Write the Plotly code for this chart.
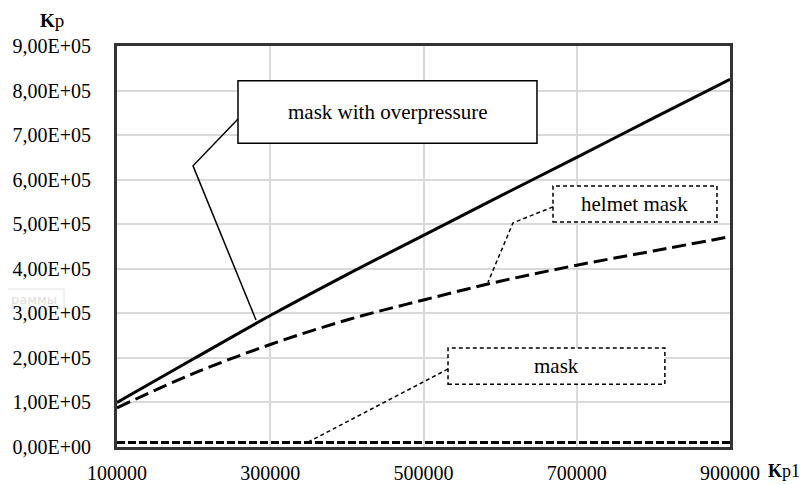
import plotly.graph_objects as go

# ---- data ----
x_vals = [100000, 200000, 300000, 400000, 500000, 600000, 700000, 800000, 900000]
mask_overpressure = [1.00e5, 1.98e5, 2.95e5, 3.87e5, 4.75e5, 5.63e5, 6.50e5, 7.38e5, 8.25e5]
helmet_mask = [0.88e5, 1.65e5, 2.30e5, 2.85e5, 3.30e5, 3.72e5, 4.08e5, 4.40e5, 4.72e5]
mask = [1.0e4, 1.0e4, 1.0e4, 1.0e4, 1.0e4, 1.0e4, 1.0e4, 1.0e4, 1.0e4]

y_tickvals = [0, 1e5, 2e5, 3e5, 4e5, 5e5, 6e5, 7e5, 8e5, 9e5]
y_ticktext = ["0,00E+00", "1,00E+05", "2,00E+05", "3,00E+05", "4,00E+05",
              "5,00E+05", "6,00E+05", "7,00E+05", "8,00E+05", "9,00E+05"]
x_tickvals = [100000, 300000, 500000, 700000, 900000]
x_ticktext = ["100000", "300000", "500000", "700000", "900000"]

# callout labels: (text, box x0, x1, y0, y1, leader path points, style)
callouts = [
    ("mask with overpressure", 257900, 648100, 6.82e5, 8.22e5,
     [(257900, 7.36e5), (199200, 6.31e5), (281400, 2.85e5)], "solid"),
    ("helmet mask", 669000, 883000, 5.05e5, 5.86e5,
     [(669000, 5.39e5), (616800, 5.03e5), (584200, 3.70e5)], "dash"),
    ("mask", 532000, 815000, 1.41e5, 2.22e5,
     [(532000, 1.75e5), (349300, 0.11e5)], "dash"),
]

FONT = "Liberation Serif, Times New Roman, serif"

# the page body has an 8px margin, so the figure is drawn 8px in from the top-left
OFF = 8
W, H = 808 - OFF, 485 - OFF
L, T = 117 - OFF, 46 - OFF
R = W - (730 - OFF)
B = H - (447 - OFF)
pw, ph = W - L - R, H - T - B


def px2paper(px, py):
    """page pixel position -> paper coords"""
    return (px - OFF - L) / pw, (H - B - (py - OFF)) / ph


fig = go.Figure()
fig.add_trace(go.Scatter(x=x_vals, y=mask_overpressure, mode="lines",
                         line=dict(color="black", width=3), line_shape="spline",
                         name="mask with overpressure"))
fig.add_trace(go.Scatter(x=x_vals, y=helmet_mask, mode="lines",
                         line=dict(color="black", width=3, dash="14px,6px"), line_shape="spline",
                         name="helmet mask"))
fig.add_trace(go.Scatter(x=x_vals, y=mask, mode="lines",
                         line=dict(color="black", width=3, dash="8px,3px"),
                         name="mask"))

shapes = []
annotations = []
for text, x0, x1, y0, y1, pts, style in callouts:
    dash = "solid" if style == "solid" else "4px,3px"
    shapes.append(dict(type="rect", xref="x", yref="y", x0=x0, x1=x1, y0=y0, y1=y1,
                       line=dict(color="black", width=1.5, dash=dash),
                       fillcolor="white", layer="above"))
    path = "M " + " L ".join(f"{px},{py}" for px, py in pts)
    shapes.append(dict(type="path", xref="x", yref="y", path=path,
                       line=dict(color="black", width=1.5, dash=dash), layer="above"))
    annotations.append(dict(x=(x0 + x1) / 2, y=(y0 + y1) / 2, xref="x", yref="y",
                            xanchor="center", yanchor="middle",
                            text=text, showarrow=False,
                            font=dict(family=FONT, size=21, color="black")))

# faint leftover tooltip box (drawn behind the tick labels)
bx0, by1 = px2paper(4, 289)
bx1, by0 = px2paper(64, 308)
shapes.append(dict(type="rect", xref="paper", yref="paper", x0=bx0, x1=bx1, y0=by0, y1=by1,
                   line=dict(color="#e3e3e3", width=1), fillcolor="rgba(0,0,0,0)", layer="below"))
tx, ty = px2paper(34, 299)
annotations.append(dict(x=tx, y=ty, xref="paper", yref="paper", text="раммы",
                        xanchor="center", yanchor="middle",
                        showarrow=False, font=dict(family="DejaVu Sans", size=13, color="#dedede")))

# axis titles
kx, ky = px2paper(52, 20)
annotations.append(dict(x=kx, y=ky, xref="paper", yref="paper", text="<b>K</b>p",
                        xanchor="center", yanchor="middle",
                        showarrow=False, font=dict(family=FONT, size=19, color="black")))
kx, ky = px2paper(784, 471)
annotations.append(dict(x=kx, y=ky, xref="paper", yref="paper", text="<b>K</b>p1",
                        xanchor="center", yanchor="middle",
                        showarrow=False, font=dict(family=FONT, size=18, color="black")))

fig.update_layout(
    width=W, height=H,
    margin=dict(l=L, r=R, t=T, b=B, autoexpand=False),
    paper_bgcolor="white", plot_bgcolor="white",
    showlegend=False,
    shapes=shapes, annotations=annotations,
    font=dict(family=FONT, size=18, color="black"),
)
fig.update_xaxes(range=[100000, 900000], tickvals=x_tickvals, ticktext=x_ticktext,
                 showgrid=True, gridcolor="#d9d9d9", gridwidth=1.5,
                 showline=True, linecolor="#333333", linewidth=3, mirror=True,
                 ticks="", ticklabelstandoff=6, zeroline=False, automargin=False,
                 tickfont=dict(family=FONT, size=20, color="black"))
fig.update_yaxes(range=[0, 900000], tickvals=y_tickvals, ticktext=y_ticktext,
                 showgrid=True, gridcolor="#d9d9d9", gridwidth=1.5,
                 showline=True, linecolor="#333333", linewidth=3, mirror=True,
                 ticks="", ticklabelstandoff=19, zeroline=False, automargin=False,
                 tickfont=dict(family=FONT, size=20, color="black"))

fig.write_html("out.html")
